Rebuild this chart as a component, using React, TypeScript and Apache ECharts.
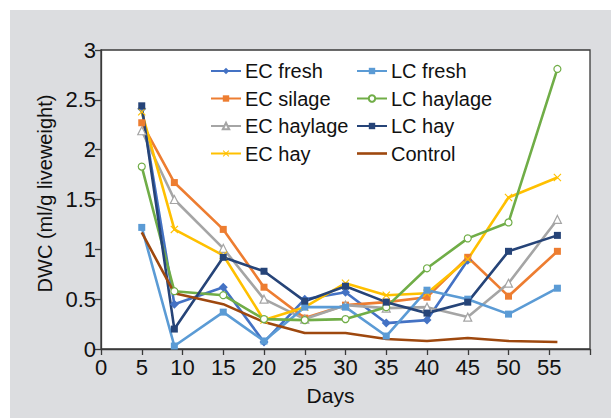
import React, { useEffect, useRef } from "react";
import * as echarts from "echarts";

const days = [5, 9, 15, 20, 25, 30, 35, 40, 45, 50, 56];
const ecFresh = [2.41, 0.45, 0.62, 0.07, 0.5, 0.57, 0.26, 0.29, 0.89];
const ecSilage = [2.27, 1.67, 1.2, 0.62, 0.31, 0.44, 0.47, 0.52, 0.92, 0.53, 0.98];
const ecHaylage = [2.19, 1.5, 1.01, 0.5, 0.3, 0.44, 0.41, 0.42, 0.32, 0.66, 1.3];
const ecHay = [2.38, 1.2, 0.94, 0.29, 0.42, 0.66, 0.54, 0.56, 0.9, 1.52, 1.72];
const lcFresh = [1.22, 0.03, 0.37, 0.08, 0.42, 0.42, 0.13, 0.59, 0.5, 0.35, 0.61];
const lcHaylage = [1.83, 0.58, 0.54, 0.3, 0.29, 0.3, 0.42, 0.81, 1.11, 1.27, 2.81];
const lcHay = [2.44, 0.2, 0.92, 0.78, 0.48, 0.63, 0.47, 0.36, 0.47, 0.98, 1.14];
const control = [1.17, 0.56, 0.45, 0.27, 0.16, 0.16, 0.1, 0.08, 0.11, 0.08, 0.07];

const leftNames = ["EC fresh", "EC silage", "EC haylage", "EC hay"];
const rightNames = ["LC fresh", "LC haylage", "LC hay", "Control"];

const FONT = "'Liberation Sans', Arial, sans-serif";
const X_MARK = "path://M0,1L1,0L5,4L9,0L10,1L6,5L10,9L9,10L5,6L1,10L0,9L4,5Z";
const LINE_ICON = "path://M0,0L30,0L30,2.6L0,2.6Z";

function pairs(vals: number[]) {
  return vals.map((v, i) => [days[i], v]);
}

export default function App() {
  const ref = useRef<HTMLDivElement>(null);
  useEffect(() => {
    if (!ref.current) return;
    const chart = echarts.init(ref.current, undefined, { renderer: "svg" });
    const mk = (
      name: string,
      vals: number[],
      color: string,
      symbol: string,
      symbolSize: number,
      hollow = false
    ) => ({
      name,
      type: "line",
      data: pairs(vals),
      symbol,
      symbolSize,
      showSymbol: symbol !== "none",
      lineStyle: { color, width: 2.6 },
      itemStyle: hollow
        ? { color: "#ffffff", borderColor: color, borderWidth: 1.2 }
        : { color, borderColor: color, borderWidth: 0 },
      emphasis: { disabled: true },
    });
    const legendCommon = {
      orient: "vertical",
      itemWidth: 30,
      itemHeight: 8,
      itemGap: 7.5,
      textStyle: { fontFamily: FONT, fontSize: 20, color: "#111", padding: [0, 0, 0, -1] },
    };
    chart.setOption({
      animation: false,
      graphic: [
        {
          type: "rect",
          shape: { x: 10, y: 10, width: 601, height: 408 },
          style: { fill: "#dcdde0" },
          z: -10,
          silent: true,
        },
      ],
      grid: {
        left: 101,
        top: 50,
        right: 611 - 590,
        bottom: 418 - 349,
        show: true,
        backgroundColor: "#ffffff",
        borderColor: "#3a3a3a",
        borderWidth: 1.3,
      },
      legend: [
        { ...legendCommon, data: leftNames, left: 205, top: 56 },
        {
          ...legendCommon,
          data: rightNames.map((n) =>
            n === "Control" ? { name: n, icon: LINE_ICON, itemStyle: { color: "#9E480E" } } : n
          ),
          left: 351,
          top: 56,
        },
      ],
      xAxis: {
        type: "value",
        min: 0,
        max: 60,
        interval: 5,
        name: "Days",
        nameLocation: "middle",
        nameGap: 36,
        nameTextStyle: { fontFamily: FONT, fontSize: 21, color: "#111", padding: [0, 30, 0, 0] },
        axisLine: { show: true, lineStyle: { color: "#3a3a3a", width: 1.3 } },
        axisTick: { show: true, length: 6, lineStyle: { color: "#3a3a3a", width: 1.3 } },
        axisLabel: {
          fontFamily: FONT,
          fontSize: 22,
          color: "#111",
          margin: 7,
          formatter: (v: number) => (v >= 60 ? "" : String(v)),
        },
        splitLine: { show: false },
      },
      yAxis: {
        type: "value",
        min: 0,
        max: 3,
        interval: 0.5,
        name: "DWC (ml/g liveweight)",
        nameLocation: "middle",
        nameGap: 44,
        nameTextStyle: { fontFamily: FONT, fontSize: 20, color: "#111", padding: [0, 0, 0, 12] },
        axisLine: { show: true, lineStyle: { color: "#3a3a3a", width: 1.3 } },
        axisTick: { show: true, length: 6, lineStyle: { color: "#3a3a3a", width: 1.3 } },
        axisLabel: { fontFamily: FONT, fontSize: 22, color: "#111", margin: 5 },
        splitLine: { show: false },
      },
      series: [
        mk("EC fresh", ecFresh, "#4472C4", "diamond", 9),
        mk("EC silage", ecSilage, "#ED7D31", "rect", 7),
        mk("EC haylage", ecHaylage, "#A5A5A5", "triangle", 8, true),
        mk("EC hay", ecHay, "#FFC000", X_MARK, 8),
        mk("LC fresh", lcFresh, "#5B9BD5", "rect", 7),
        mk("LC haylage", lcHaylage, "#70AD47", "circle", 7, true),
        mk("LC hay", lcHay, "#264478", "rect", 7),
        mk("Control", control, "#9E480E", "none", 0),
      ],
    });
    return () => chart.dispose();
  }, []);
  return (
    <div
      ref={ref}
      style={{ position: "fixed", left: 0, top: 0, width: 611, height: 418, background: "#ffffff" }}
    />
  );
}
